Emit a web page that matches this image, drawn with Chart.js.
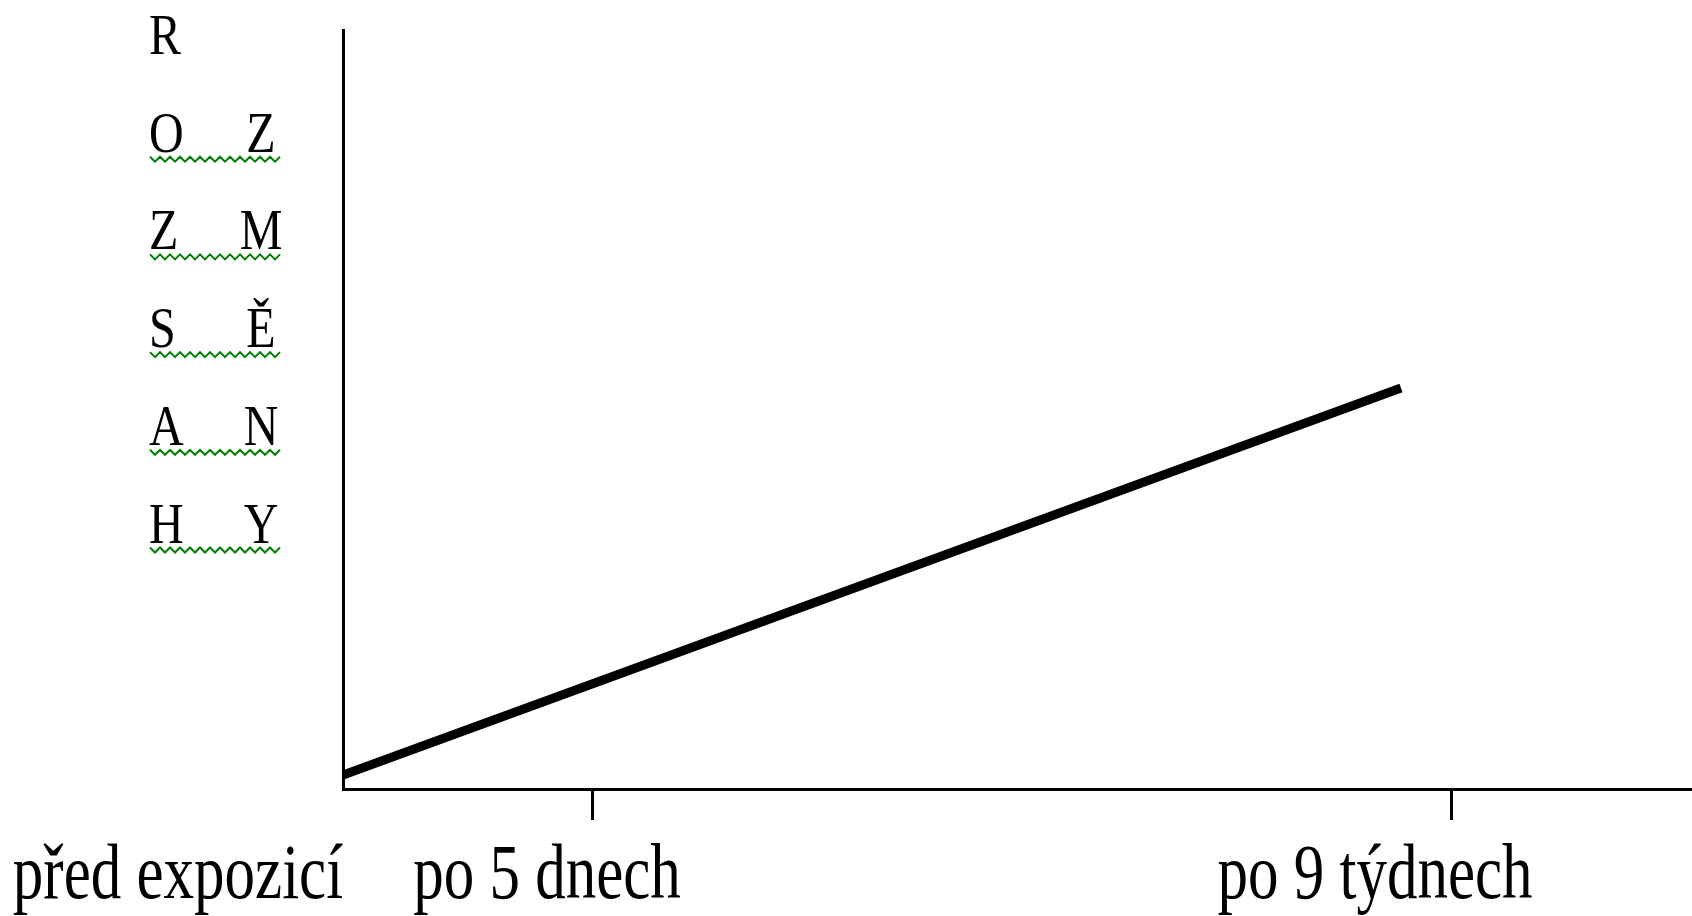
<!DOCTYPE html>
<html>
<head>
<meta charset="utf-8">
<script src="https://cdn.jsdelivr.net/npm/chart.js@4"></script>
<style>
    body { margin: 0; background: #fff; }
    canvas { display: block; }
</style>
</head>
<body>
<canvas id="changeChart" width="1692" height="916"></canvas>
<script>
// Data (x in arbitrary time units, y in arbitrary "extent" units)
const timeLabels = ['před expozicí', 'po 5 dnech', 'po 9 týdnech'];
const labelPositions = [-1.65, 2.04, 10.32];
const tickPositions = [2.49, 11.08];
const xValues = [0, 2.49, 10.58];
const changeValues = [0.14, 1.05, 4.01];
const titleLeft = ['R', 'O', 'Z', 'S', 'A', 'H'];
const titleRight = ['', 'Z', 'M', 'Ě', 'N', 'Y'];

// Draws the stretched serif labels and the stacked y title
const textPlugin = {
    id: 'textPlugin',
    afterDraw(chart) {
        const ctx = chart.ctx;
        const xScale = chart.scales.x;
        ctx.save();
        ctx.fillStyle = '#000';

        // x labels
        ctx.font = '61px "Liberation Serif"';
        ctx.textAlign = 'center';
        ctx.textBaseline = 'alphabetic';
        timeLabels.forEach((label, i) => {
            const x = xScale.getPixelForValue(labelPositions[i]);
            ctx.save();
            ctx.translate(x, 898);
            ctx.scale(1, 1.3);
            ctx.fillText(label, 0, 0);
            ctx.restore();
        });

        // stacked y title "ROZSAH ZMĚNY"
        ctx.font = '48px "Liberation Serif"';
        titleLeft.forEach((letter, i) => {
            const base = 54 + i * 97.7;
            ctx.save();
            ctx.translate(149, base);
            ctx.scale(1, 1.2);
            ctx.textAlign = 'left';
            ctx.fillText(letter, 0, 0);
            ctx.restore();
            if (titleRight[i]) {
                ctx.save();
                ctx.translate(261, base);
                ctx.scale(1, 1.2);
                ctx.textAlign = 'center';
                ctx.fillText(titleRight[i], 0, 0);
                ctx.restore();

                // green spell-check squiggle
                ctx.beginPath();
                ctx.strokeStyle = '#008000';
                ctx.lineWidth = 2;
                for (let x = 150, k = 0; x <= 280; x += 5, k++) {
                    const y = base + (k % 2 ? 10 : 5);
                    if (k === 0) ctx.moveTo(x, y); else ctx.lineTo(x, y);
                }
                ctx.stroke();
            }
        });
        ctx.restore();
    }
};

const ctx = document.getElementById('changeChart').getContext('2d');
const changeChart = new Chart(ctx, {
    type: 'line',
    data: {
        datasets: [{
            data: xValues.map((x, i) => ({ x: x, y: changeValues[i] })),
            borderColor: '#000',
            borderWidth: 9,
            pointRadius: 0,
            tension: 0,
            fill: false
        }]
    },
    options: {
        responsive: false,
        animation: false,
        devicePixelRatio: 1,
        layout: {
            padding: { left: 343, top: 30, right: 0, bottom: 96 }
        },
        plugins: {
            legend: { display: false },
            tooltip: { enabled: false }
        },
        scales: {
            x: {
                type: 'linear',
                min: 0,
                max: 13.49,
                afterBuildTicks: axis => {
                    axis.ticks = tickPositions.map(v => ({ value: v }));
                },
                ticks: { display: false },
                grid: {
                    display: true,
                    drawOnChartArea: false,
                    drawTicks: true,
                    tickLength: 31,
                    tickWidth: 3,
                    color: '#000'
                },
                border: { display: true, color: '#000', width: 3 }
            },
            y: {
                type: 'linear',
                min: 0,
                max: 7.59,
                ticks: { display: false },
                grid: { display: false, drawTicks: false },
                border: { display: true, color: '#000', width: 3 }
            }
        }
    },
    plugins: [textPlugin]
});
</script>
</body>
</html>
